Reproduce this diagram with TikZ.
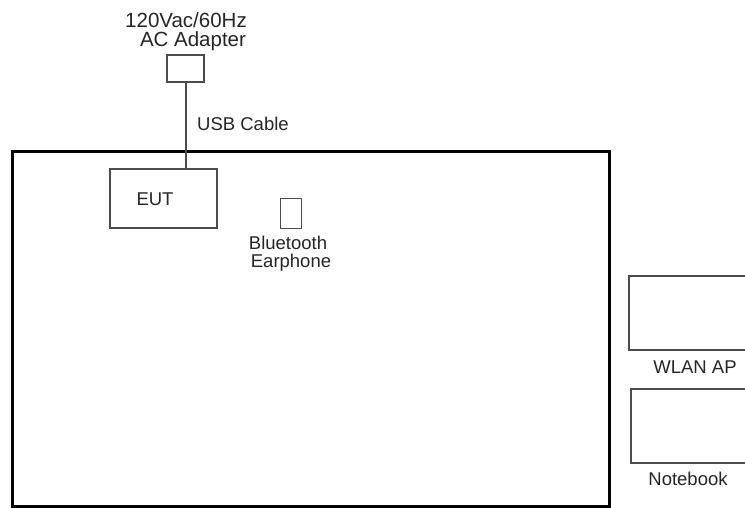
\documentclass[tikz,border=0pt]{standalone}
\usepackage{fontspec}
\setmainfont{Liberation Sans}
\begin{document}
\begin{tikzpicture}[x=1pt,y=-1pt,
  table/.style={draw=black,line width=3pt},
  dev/.style={draw=black!70,line width=1.8pt,fill=white},
  lbl/.style={inner sep=0pt,text=black!85,font=\fontsize{18.5}{20}\selectfont,align=center},
  biglbl/.style={inner sep=0pt,text=black!85,font=\fontsize{20.5}{22}\selectfont,align=center},
  cable/.style={draw=black!70,line width=1.8pt}]
\useasboundingbox (0,0) rectangle (745,508);
\fill[white] (0,0) rectangle (745,508);
% table
\draw[table] (12,152) rectangle (609,506);
% adapter
\node[dev,minimum width=37pt,minimum height=27pt,inner sep=0pt] (adapter) at (185.5,68.5) {};
\node[biglbl] (adtxt1) at (186,20) {120Vac/60Hz};
\node[biglbl] (adtxt2) at (193,41) {AC Adapter};
% EUT
\node[dev,minimum width=107pt,minimum height=59pt,inner sep=0pt] (eut) at (163.5,198.5) {};
\node[lbl] (euttxt) at (155,199) {EUT};
% cable
\draw[cable] (adapter.south -| 186,0) -- (eut.north -| 186,0);
\node[lbl,anchor=west] (usb) at (197,124) {USB Cable};
% earphone
\node[dev,minimum width=21pt,minimum height=30pt,inner sep=0pt,line width=1.5pt] (ear) at (291,213.5) {};
\node[lbl] (eartxt1) at (288,243) {Bluetooth};
\node[lbl] (eartxt2) at (291,263) {Earphone};
% WLAN AP
\node[dev,minimum width=130pt,minimum height=74pt,inner sep=0pt,anchor=north west] (ap) at (628,275) {};
\node[lbl] (aptxt) at (695,367) {WLAN AP};
% Notebook
\node[dev,minimum width=130pt,minimum height=74pt,inner sep=0pt,anchor=north west] (nb) at (630,388) {};
\node[lbl] (nbtxt) at (688,479) {Notebook};
\end{tikzpicture}
\end{document}
